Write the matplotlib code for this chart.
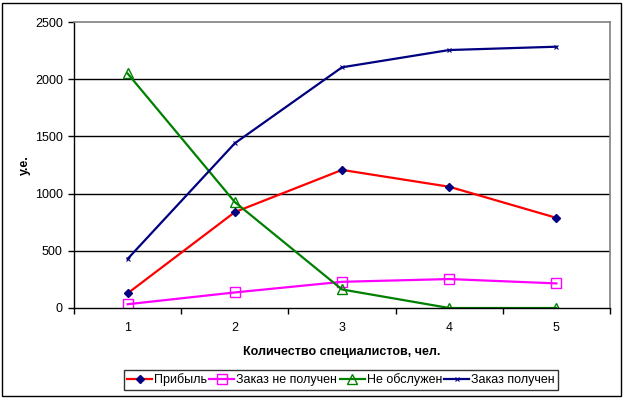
import matplotlib.pyplot as plt
from matplotlib.patches import Rectangle

plt.rcParams['font.family'] = ['Liberation Sans', 'DejaVu Sans']

# Data
specialists = [1, 2, 3, 4, 5]
profit = [128, 838, 1207, 1060, 788]
order_not_received = [33, 136, 229, 253, 215]
not_served = [2050, 926, 162, 0, 0]
order_received = [429, 1440, 2104, 2255, 2284]

fig = plt.figure(figsize=(6.24, 3.99), dpi=100)
ax = fig.add_axes([74 / 624, 91 / 399, 536 / 624, 286 / 399])

ax.plot(specialists, profit, color='#FF0000', lw=1.6, marker='D', ms=4.5,
        mfc='#000080', mec='#000080', label='Прибыль')
ax.plot(specialists, order_not_received, color='#FF00FF', lw=1.6, marker='s', ms=7,
        mfc='none', mec='#FF00FF', mew=1.0, label='Заказ не получен')
ax.plot(specialists, not_served, color='#008000', lw=1.6, marker='^', ms=7.5,
        mfc='none', mec='#008000', mew=1.0, label='Не обслужен')
ax.plot(specialists, order_received, color='#000080', lw=1.6, marker='x', ms=3.5,
        mec='#000080', mew=0.8, label='Заказ получен')

ax.set_xlim(0.5, 5.5)
ax.set_ylim(0, 2500)
ax.set_yticks(range(0, 2501, 500))
ax.set_xticks(specialists)
ax.set_xticks([0.5, 1.5, 2.5, 3.5, 4.5, 5.5], minor=True)
ax.tick_params(axis='x', which='major', length=0, pad=10, labelsize=9)
ax.tick_params(axis='x', which='minor', length=4, width=1, color='black', direction='out')
ax.tick_params(axis='y', length=4, width=1, direction='out', labelsize=9, pad=4)

for v in range(500, 2001, 500):
    ax.axhline(v, color='black', lw=1, zorder=0)

for s in ['top', 'right']:
    ax.spines[s].set_color('#808080')
    ax.spines[s].set_linewidth(1.2)
for s in ['left', 'bottom']:
    ax.spines[s].set_color('black')
    ax.spines[s].set_linewidth(1)

ax.set_xlabel('Количество специалистов, чел.', fontsize=9, fontweight='bold', labelpad=9)
ax.set_ylabel('у.е.', fontsize=9, fontweight='bold', labelpad=3)

leg = fig.legend(loc='center', bbox_to_anchor=(341 / 624, 1 - 380 / 399), ncol=4,
                 fontsize=9, frameon=True, fancybox=False, edgecolor='black',
                 handlelength=2.0, handletextpad=0.15, columnspacing=0.2,
                 borderpad=0.25, borderaxespad=0)
leg.get_frame().set_linewidth(1)

# outer chart border
fig.patches.append(Rectangle((2 / 624, 3 / 399), 619 / 624, 393 / 399,
                             transform=fig.transFigure, fill=False,
                             edgecolor='black', lw=1))

fig.savefig('out.png', dpi=100)
